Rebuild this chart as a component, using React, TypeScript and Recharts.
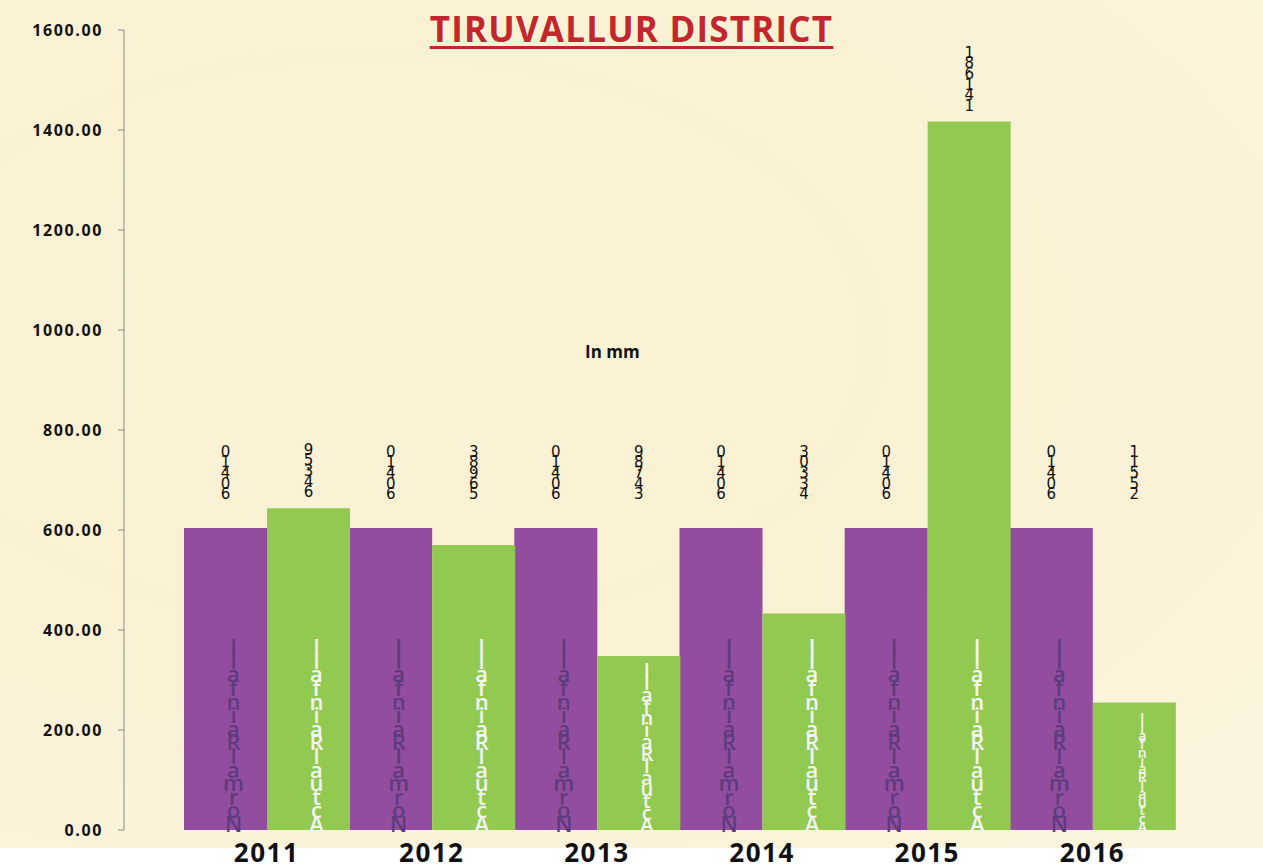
import { Bar, BarChart, LabelList, XAxis, YAxis } from 'recharts';

const years = ['2011', '2012', '2013', '2014', '2015', '2016'];
const normalRain = [604.1, 604.1, 604.1, 604.1, 604.1, 604.1];
const actualRain = [643.59, 569.83, 347.89, 433.03, 1416.81, 255.11];
const yTicks = [0, 200, 400, 600, 800, 1000, 1200, 1400, 1600];

const data = years.map((year, i) => ({
  year,
  normal: normalRain[i],
  actual: actualRain[i],
}));

const PURPLE = '#924D9E';
const GREEN = '#92C950';

// characters stacked bottom-to-top, as the sheet draws them
function stackChars(text: string) {
  return text.split('').reverse();
}

function valueLabel(props: any) {
  const { x, y, width, value } = props;
  const chars = stackChars(Number(value).toFixed(2));
  const bottom = Math.min(y - 11, 499);
  const cx = x + width / 2;
  // walk from the last (bottom) char upwards
  const pos: number[] = [];
  let cur = bottom;
  for (let i = chars.length - 1; i >= 0; i--) {
    pos[i] = cur;
    if (i > 0 && chars[i - 1] === '.') cur -= 7;
    else if (chars[i] === '.') cur -= 4;
    else cur -= 10.5;
  }
  return (
    <g>
      {chars.map((c, i) => (
        <text
          key={i}
          x={cx}
          y={pos[i]}
          textAnchor="middle"
          fontSize={15}
          fontFamily="DejaVu Sans"
          fill="#111"
        >
          {c}
        </text>
      ))}
    </g>
  );
}

function nameLabel(name: string, color: string) {
  return (props: any) => {
    const { x, y, width, height } = props;
    const chars = stackChars(name.replace(' ', ''));
    const bottom = y + height + 2;
    const step = Math.min(13.6, (height - 20) / (chars.length - 1));
    const size = Math.min(22, step * 1.7);
    const cx = x + width / 2 + 8;
    return (
      <g>
        {chars.map((c, i) => (
          <text
            key={i}
            x={cx}
            y={bottom - (chars.length - 1 - i) * step}
            textAnchor="middle"
            fontSize={size}
            fontWeight={600}
            fontFamily="Open Sans"
            fill={color}
          >
            {c}
          </text>
        ))}
      </g>
    );
  };
}

function YearTick(props: any) {
  const { x, y, payload } = props;
  return (
    <text
      x={x}
      y={y + 24}
      textAnchor="middle"
      fontSize={26}
      fontWeight="bold"
      fontFamily="Open Sans"
      fill="#111"
      letterSpacing={1.5}
    >
      {payload.value}
    </text>
  );
}

export default function App() {
  return (
    <div style={{ position: 'fixed', left: 0, top: 0, width: 1263, height: 867, background: '#fff' }}>
      <div
        style={{
          position: 'absolute',
          left: 0,
          top: 0,
          width: 1263,
          height: 848,
          background:
            'radial-gradient(ellipse at 30% 40%, #fbf3d6 0%, #faf1d3 40%, #fbf5de 100%)',
        }}
      />
      <div
        style={{
          position: 'absolute',
          left: 0,
          top: 5,
          width: 1263,
          textAlign: 'center',
          fontFamily: 'Open Sans',
          fontWeight: 'bold',
          fontSize: 35,
          color: '#C1272D',
          textDecoration: 'underline',
          textDecorationThickness: 3,
          textUnderlineOffset: 4,
          letterSpacing: 1.2,
        }}
      >
        TIRUVALLUR DISTRICT
      </div>
      <div
        style={{
          position: 'absolute',
          left: 585,
          top: 340,
          fontFamily: 'Open Sans',
          fontWeight: 'bold',
          fontSize: 17,
          color: '#111',
        }}
      >
        In mm
      </div>
      <div style={{ position: 'absolute', left: 0, top: 0 }}>
        <BarChart
          width={1263}
          height={867}
          data={data}
          margin={{ top: 30, right: 28, bottom: 0, left: 0 }}
          barCategoryGap={0}
          barGap={0}
        >
          <YAxis
            width={124}
            domain={[0, 1600]}
            ticks={yTicks}
            tickFormatter={(v: number) => v.toFixed(2)}
            tick={{ fill: '#111', fontSize: 16, fontWeight: 'bold', fontFamily: 'Open Sans', letterSpacing: 1.6 }}
            stroke="#8a8a8a"
            tickSize={6}
            tickMargin={15}
            interval={0}
          />
          <XAxis
            dataKey="year"
            height={37}
            padding={{ left: 60, right: 60 }}
            axisLine={false}
            tickLine={false}
            tick={<YearTick />}
            interval={0}
          />
          <Bar dataKey="normal" fill={PURPLE} isAnimationActive={false}>
            <LabelList dataKey="normal" content={valueLabel} />
            <LabelList dataKey="normal" content={nameLabel('Normal Rainfall', '#5D3C7E')} />
          </Bar>
          <Bar dataKey="actual" fill={GREEN} isAnimationActive={false}>
            <LabelList dataKey="actual" content={valueLabel} />
            <LabelList dataKey="actual" content={nameLabel('Actual Rainfall', '#F4F4F4')} />
          </Bar>
        </BarChart>
      </div>
    </div>
  );
}
